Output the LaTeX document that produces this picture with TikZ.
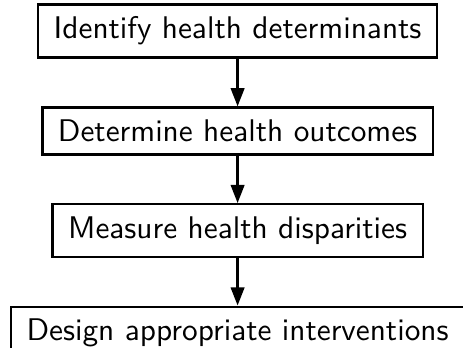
\documentclass[tikz,border=0pt]{standalone}
\usetikzlibrary{positioning,arrows.meta}

\begin{document}
\begin{tikzpicture}[
		stepbox/.style={draw, line width=0.75pt, inner xsep=5pt, inner ysep=3.95pt, font=\sffamily},
		flow/.style={line width=0.8pt, -{Triangle[length=5.8pt,width=4.3pt]}},
		node distance=15.2pt
	]
			%%%%% START %%%%%
			
			\useasboundingbox (-75.9pt, 9.9pt) rectangle (72pt, -101pt);
			
			\node[stepbox] (determinants) {Identify health determinants};
			\node[stepbox, below=of determinants] (outcomes) {Determine health outcomes};
			\node[stepbox, below=of outcomes] (disparities) {Measure health disparities};
			\node[stepbox, below=of disparities] (interventions) {Design appropriate interventions};
			
			\draw[flow] (determinants) -- (outcomes);
			\draw[flow] (outcomes) -- (disparities);
			\draw[flow] (disparities) -- (interventions);
			
			%%%%% END %%%%%
\end{tikzpicture}
\end{document}
